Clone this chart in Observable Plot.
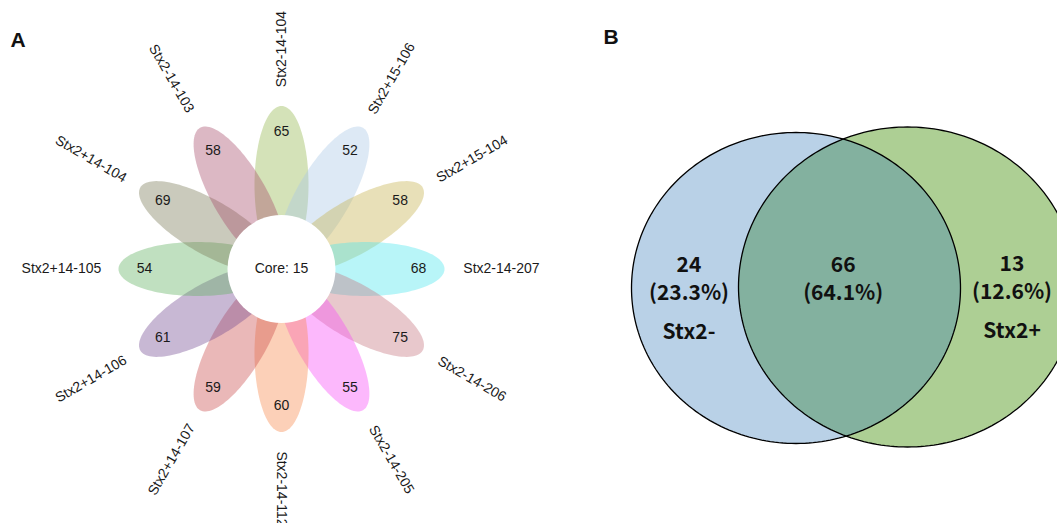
<!DOCTYPE html>
<html>
<head>
<meta charset="utf-8">
<script src="https://cdn.jsdelivr.net/npm/d3@7"></script>
<script src="https://cdn.jsdelivr.net/npm/@observablehq/plot@0.6"></script>
<style>
  html, body { margin: 0; padding: 0; background: #fff; overflow: hidden; }
  #figure { position: relative; width: 1057px; height: 523px; }
  #panelA { position: absolute; left: 0; top: 0; }
  #panelB { position: absolute; left: 590px; top: 0; }
</style>
</head>
<body>
<div id="figure">
  <div id="panelA"></div>
  <div id="panelB"></div>
</div>
<script>
// ---- Panel A: flower plot of genes unique to each strain ----
const strainNames = [
  "Stx2-14-104", "Stx2+15-106", "Stx2+15-104", "Stx2-14-207",
  "Stx2-14-206", "Stx2-14-205", "Stx2-14-112", "Stx2+14-107",
  "Stx2+14-106", "Stx2+14-105", "Stx2+14-104", "Stx2-14-103"
];
const uniqueCounts = [65, 52, 58, 68, 75, 55, 60, 59, 61, 54, 69, 58];
const petalColors = [
  "#93b64d", "#aac8e6", "#c5b14d", "#4de6ed",
  "#c5757f", "#f74df7", "#f7894d", "#ca4d4d",
  "#754d93", "#61b161", "#7a7a57", "#a74d6b"
];
const coreCount = 15;

// ---- Panel B: Venn diagram of the two groups ----
const vennSets = ["Stx2-", "Stx2+"];
const vennRegionCounts = [24, 66, 13];   // Stx2- only, shared, Stx2+ only
const vennColors = ["#b9d1e7", "#83b19f", "#adcf94"];

// Layout (pixels)
const W = 1057, H = 523, A_W = 590, B_W = W - A_W;
const FLOWER = {cx: 281, cy: 268.5, petalOffset: 84, petalA: 79, petalB: 27, coreR: 54, countR: 137, nameR: 220};

const rad = d => d * Math.PI / 180;
const petals = strainNames.map((name, i) => ({
  name, count: uniqueCounts[i], color: petalColors[i], angle: i * 360 / strainNames.length
}));

// ellipse outline for each petal, oriented along its angle (y axis points up)
const petalOutline = petals.flatMap(p => {
  const ux = Math.sin(rad(p.angle)), uy = Math.cos(rad(p.angle));
  const vx = uy, vy = -ux;
  const cx = ux * FLOWER.petalOffset, cy = uy * FLOWER.petalOffset;
  return d3.range(0, 121).map(k => {
    const t = 2 * Math.PI * k / 120;
    const a = FLOWER.petalA * Math.cos(t), b = FLOWER.petalB * Math.sin(t);
    return {name: p.name, color: p.color, x: cx + a * ux + b * vx, y: cy + a * uy + b * vy};
  });
});

const labelRotate = p => {
  let r = p.angle - 90;
  if (r > 90) r -= 180;
  return r;
};

const plotA = Plot.plot({
  width: A_W, height: H, margin: 0,
  x: {domain: [-FLOWER.cx, A_W - FLOWER.cx], axis: null},
  y: {domain: [FLOWER.cy - H, FLOWER.cy], axis: null},
  color: {type: "identity"},
  style: {fontFamily: "'Liberation Sans', Arial, sans-serif", background: "white"},
  marks: [
    Plot.line(petalOutline, {x: "x", y: "y", z: "name", fill: "color", fillOpacity: 0.4, stroke: "none", curve: "linear-closed"}),
    Plot.dot([coreCount], {x: () => 0, y: () => 0, r: FLOWER.coreR, fill: "white", stroke: "none"}),
    Plot.text([coreCount], {x: () => 0, y: () => 0, text: d => `Core: ${d}`, fontSize: 14, fill: "#1a1a1a"}),
    Plot.text(petals, {
      x: p => FLOWER.countR * Math.sin(rad(p.angle)),
      y: p => FLOWER.countR * Math.cos(rad(p.angle)),
      text: "count", fontSize: 14, fill: "#1a1a1a"
    }),
    Plot.text(petals, {
      x: p => FLOWER.nameR * Math.sin(rad(p.angle)),
      y: p => FLOWER.nameR * Math.cos(rad(p.angle)),
      text: "name", rotate: labelRotate, fontSize: 14, fill: "#1a1a1a"
    }),
    Plot.text(["A"], {frameAnchor: "top-left", dx: 10, dy: 40, textAnchor: "start", lineAnchor: "middle", fontSize: 21, fontWeight: "bold", fill: "#111"})
  ]
});
document.getElementById("panelA").append(plotA);

// ---- Venn geometry (absolute page pixels, y down) ----
const circles = [
  {set: vennSets[0], cx: 795.5, cy: 287.5, rx: 164.5, ry: 155.5},
  {set: vennSets[1], cx: 907, cy: 286.5, rx: 169, ry: 160}
];
const ellipsePoly = c => d3.range(0, 240).map(k => {
  const t = 2 * Math.PI * k / 240;
  return [c.cx + c.rx * Math.cos(t), c.cy + c.ry * Math.sin(t)];
});

// Sutherland–Hodgman clip of one polygon by a convex polygon
function clipPolygon(subject, clip) {
  let shoelace = 0;
  for (let i = 0; i < clip.length; i++) {
    const a = clip[i], b = clip[(i + 1) % clip.length];
    shoelace += a[0] * b[1] - b[0] * a[1];
  }
  const sgn = Math.sign(shoelace);
  const inside = (p, a, b) => sgn * ((b[0] - a[0]) * (p[1] - a[1]) - (b[1] - a[1]) * (p[0] - a[0])) >= 0;
  const intersect = (p, q, a, b) => {
    const x1 = p[0], y1 = p[1], x2 = q[0], y2 = q[1], x3 = a[0], y3 = a[1], x4 = b[0], y4 = b[1];
    const den = (x1 - x2) * (y3 - y4) - (y1 - y2) * (x3 - x4);
    const t = ((x1 - x3) * (y3 - y4) - (y1 - y3) * (x3 - x4)) / den;
    return [x1 + t * (x2 - x1), y1 + t * (y2 - y1)];
  };
  let output = subject;
  for (let i = 0; i < clip.length; i++) {
    const a = clip[i], b = clip[(i + 1) % clip.length];
    const input = output; output = [];
    for (let j = 0; j < input.length; j++) {
      const p = input[j], q = input[(j + 1) % input.length];
      const pin = inside(p, a, b), qin = inside(q, a, b);
      if (pin) {
        output.push(p);
        if (!qin) output.push(intersect(p, q, a, b));
      } else if (qin) {
        output.push(intersect(p, q, a, b));
      }
    }
  }
  return output;
}

const polyL = ellipsePoly(circles[0]), polyR = ellipsePoly(circles[1]);
const lens = clipPolygon(polyL, polyR);
const toRows = (poly, id, color) => poly.map(([x, y]) => ({id, color, x, y}));
const regionRows = [
  ...toRows(polyL, "left", vennColors[0]),
  ...toRows(polyR, "right", vennColors[2]),
  ...toRows(lens, "lens", vennColors[1])
];
const outlineRows = [...toRows(polyL, "left", "#000"), ...toRows(polyR, "right", "#000")];

const lensTop = d3.least(lens, (a, b) => a[1] - b[1]);
const leftEdgeL = circles[0].cx - circles[0].rx, leftEdgeR = circles[1].cx - circles[1].rx;
const rightEdgeL = circles[0].cx + circles[0].rx, rightEdgeR = Math.min(circles[1].cx + circles[1].rx, W);
const fmtPct = d3.format(".1%");
const total = d3.sum(vennRegionCounts);
const vennLabels = [
  {x: (leftEdgeL + leftEdgeR) / 2 + 4, y: circles[0].cy, count: vennRegionCounts[0], set: vennSets[0]},
  {x: lensTop[0], y: circles[0].cy, count: vennRegionCounts[1], set: ""},
  {x: (rightEdgeL + rightEdgeR) / 2 + 3, y: circles[1].cy, count: vennRegionCounts[2], set: vennSets[1]}
];

const vennFont = {fontSize: 21, fontWeight: 700, fill: "#111"};
const plotB = Plot.plot({
  width: B_W, height: H, margin: 0,
  x: {domain: [A_W, W], axis: null},
  y: {domain: [0, H], range: [0, H], axis: null},
  color: {type: "identity"},
  style: {fontFamily: "'Noto Sans CJK SC', 'Noto Sans', sans-serif", background: "white"},
  marks: [
    Plot.line(regionRows, {x: "x", y: "y", z: "id", fill: "color", stroke: "none", curve: "linear-closed", clip: true}),
    Plot.line(outlineRows, {x: "x", y: "y", z: "id", stroke: "#000", strokeWidth: 1.3, curve: "linear-closed", clip: true}),
    Plot.text(vennLabels, {x: "x", y: "y", text: d => String(d.count), dy: -23, ...vennFont}),
    Plot.text(vennLabels, {x: "x", y: "y", text: d => `(${fmtPct(d.count / total)})`, dy: 5, ...vennFont}),
    Plot.text(vennLabels.filter(d => d.set), {x: "x", y: "y", text: "set", dy: 44, ...vennFont}),
    Plot.text(["B"], {frameAnchor: "top-left", dx: 13, dy: 37, textAnchor: "start", lineAnchor: "middle", fontSize: 21, fontWeight: "bold", fill: "#111",
      fontFamily: "'Liberation Sans', Arial, sans-serif"})
  ]
});
document.getElementById("panelB").append(plotB);
</script>
</body>
</html>
